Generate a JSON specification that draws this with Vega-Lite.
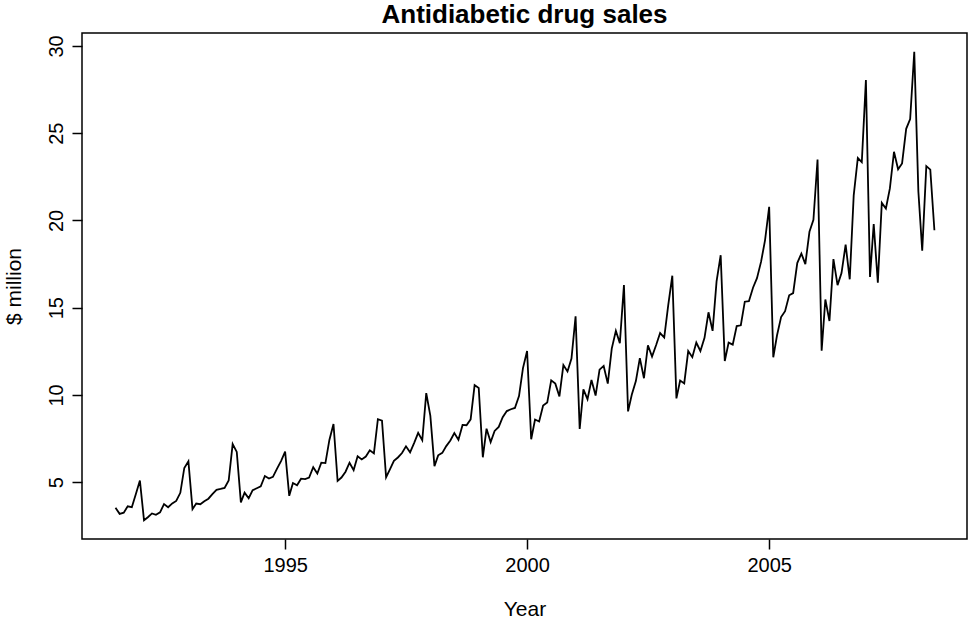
{
  "$schema": "https://vega.github.io/schema/vega-lite/v6.json",
  "width": 885,
  "height": 506,
  "autosize": {"type": "none"},
  "padding": {"left": 82, "top": 33, "right": 11, "bottom": 89},
  "background": "white",
  "config": {
    "font": "Liberation Sans",
    "view": {"stroke": "black", "strokeWidth": 1.5},
    "axis": {"grid": false, "domain": false, "tickColor": "black", "tickWidth": 1.5, "labelColor": "black", "titleColor": "black", "labelFont": "Liberation Sans", "titleFont": "Liberation Sans", "titleFontWeight": "normal"}
  },
  "title": {"text": "Antidiabetic drug sales", "fontSize": 26, "fontWeight": "bold", "font": "Liberation Sans", "anchor": "middle", "offset": 5, "color": "black"},
  "data": {"values": [
    {"d":"1991-07-01","v":3.526591},{"d":"1991-08-01","v":3.180891},{"d":"1991-09-01","v":3.252221},{"d":"1991-10-01","v":3.611003},{"d":"1991-11-01","v":3.565869},{"d":"1991-12-01","v":4.306371},
    {"d":"1992-01-01","v":5.088335},{"d":"1992-02-01","v":2.814520},{"d":"1992-03-01","v":2.985811},{"d":"1992-04-01","v":3.204780},{"d":"1992-05-01","v":3.127578},{"d":"1992-06-01","v":3.270523},{"d":"1992-07-01","v":3.737851},{"d":"1992-08-01","v":3.558776},{"d":"1992-09-01","v":3.777202},{"d":"1992-10-01","v":3.924490},{"d":"1992-11-01","v":4.386531},{"d":"1992-12-01","v":5.810549},
    {"d":"1993-01-01","v":6.192068},{"d":"1993-02-01","v":3.450857},{"d":"1993-03-01","v":3.772307},{"d":"1993-04-01","v":3.734303},{"d":"1993-05-01","v":3.905399},{"d":"1993-06-01","v":4.049687},{"d":"1993-07-01","v":4.315566},{"d":"1993-08-01","v":4.562185},{"d":"1993-09-01","v":4.608662},{"d":"1993-10-01","v":4.667851},{"d":"1993-11-01","v":5.093841},{"d":"1993-12-01","v":7.179962},
    {"d":"1994-01-01","v":6.731473},{"d":"1994-02-01","v":3.841278},{"d":"1994-03-01","v":4.394076},{"d":"1994-04-01","v":4.075341},{"d":"1994-05-01","v":4.540645},{"d":"1994-06-01","v":4.645615},{"d":"1994-07-01","v":4.752607},{"d":"1994-08-01","v":5.350605},{"d":"1994-09-01","v":5.204455},{"d":"1994-10-01","v":5.301651},{"d":"1994-11-01","v":5.773742},{"d":"1994-12-01","v":6.204593},
    {"d":"1995-01-01","v":6.749484},{"d":"1995-02-01","v":4.216067},{"d":"1995-03-01","v":4.949349},{"d":"1995-04-01","v":4.823045},{"d":"1995-05-01","v":5.194754},{"d":"1995-06-01","v":5.170787},{"d":"1995-07-01","v":5.256742},{"d":"1995-08-01","v":5.855277},{"d":"1995-09-01","v":5.490729},{"d":"1995-10-01","v":6.115293},{"d":"1995-11-01","v":6.088473},{"d":"1995-12-01","v":7.416598},
    {"d":"1996-01-01","v":8.329452},{"d":"1996-02-01","v":5.069796},{"d":"1996-03-01","v":5.262557},{"d":"1996-04-01","v":5.597126},{"d":"1996-05-01","v":6.110296},{"d":"1996-06-01","v":5.689161},{"d":"1996-07-01","v":6.486849},{"d":"1996-08-01","v":6.300569},{"d":"1996-09-01","v":6.467476},{"d":"1996-10-01","v":6.828629},{"d":"1996-11-01","v":6.649078},{"d":"1996-12-01","v":8.606937},
    {"d":"1997-01-01","v":8.524471},{"d":"1997-02-01","v":5.277918},{"d":"1997-03-01","v":5.714303},{"d":"1997-04-01","v":6.214529},{"d":"1997-05-01","v":6.411929},{"d":"1997-06-01","v":6.667716},{"d":"1997-07-01","v":7.050831},{"d":"1997-08-01","v":6.704919},{"d":"1997-09-01","v":7.250988},{"d":"1997-10-01","v":7.819733},{"d":"1997-11-01","v":7.398101},{"d":"1997-12-01","v":10.096233},
    {"d":"1998-01-01","v":8.798513},{"d":"1998-02-01","v":5.918261},{"d":"1998-03-01","v":6.534493},{"d":"1998-04-01","v":6.675233},{"d":"1998-05-01","v":7.064201},{"d":"1998-06-01","v":7.383132},{"d":"1998-07-01","v":7.813162},{"d":"1998-08-01","v":7.431489},{"d":"1998-09-01","v":8.275117},{"d":"1998-10-01","v":8.260441},{"d":"1998-11-01","v":8.596156},{"d":"1998-12-01","v":10.558939},
    {"d":"1999-01-01","v":10.391416},{"d":"1999-02-01","v":6.421535},{"d":"1999-03-01","v":8.062619},{"d":"1999-04-01","v":7.297739},{"d":"1999-05-01","v":7.936916},{"d":"1999-06-01","v":8.165323},{"d":"1999-07-01","v":8.717420},{"d":"1999-08-01","v":9.070964},{"d":"1999-09-01","v":9.177113},{"d":"1999-10-01","v":9.251887},{"d":"1999-11-01","v":9.933136},{"d":"1999-12-01","v":11.532974},
    {"d":"2000-01-01","v":12.511462},{"d":"2000-02-01","v":7.457199},{"d":"2000-03-01","v":8.591191},{"d":"2000-04-01","v":8.474000},{"d":"2000-05-01","v":9.386803},{"d":"2000-06-01","v":9.560399},{"d":"2000-07-01","v":10.834295},{"d":"2000-08-01","v":10.643751},{"d":"2000-09-01","v":9.908162},{"d":"2000-10-01","v":11.710041},{"d":"2000-11-01","v":11.340151},{"d":"2000-12-01","v":12.079132},
    {"d":"2001-01-01","v":14.497581},{"d":"2001-02-01","v":8.049275},{"d":"2001-03-01","v":10.312891},{"d":"2001-04-01","v":9.753358},{"d":"2001-05-01","v":10.850382},{"d":"2001-06-01","v":9.961719},{"d":"2001-07-01","v":11.443601},{"d":"2001-08-01","v":11.659239},{"d":"2001-09-01","v":10.647060},{"d":"2001-10-01","v":12.652134},{"d":"2001-11-01","v":13.674466},{"d":"2001-12-01","v":12.965735},
    {"d":"2002-01-01","v":16.300269},{"d":"2002-02-01","v":9.053485},{"d":"2002-03-01","v":10.002449},{"d":"2002-04-01","v":10.788750},{"d":"2002-05-01","v":12.106705},{"d":"2002-06-01","v":10.954101},{"d":"2002-07-01","v":12.844566},{"d":"2002-08-01","v":12.196500},{"d":"2002-09-01","v":12.854748},{"d":"2002-10-01","v":13.542004},{"d":"2002-11-01","v":13.287640},{"d":"2002-12-01","v":15.134918},
    {"d":"2003-01-01","v":16.828350},{"d":"2003-02-01","v":9.800215},{"d":"2003-03-01","v":10.816994},{"d":"2003-04-01","v":10.654223},{"d":"2003-05-01","v":12.512323},{"d":"2003-06-01","v":12.161210},{"d":"2003-07-01","v":12.998046},{"d":"2003-08-01","v":12.517276},{"d":"2003-09-01","v":13.268658},{"d":"2003-10-01","v":14.733622},{"d":"2003-11-01","v":13.669382},{"d":"2003-12-01","v":16.503966},
    {"d":"2004-01-01","v":18.003768},{"d":"2004-02-01","v":11.938030},{"d":"2004-03-01","v":12.997900},{"d":"2004-04-01","v":12.882645},{"d":"2004-05-01","v":13.943447},{"d":"2004-06-01","v":13.989472},{"d":"2004-07-01","v":15.339097},{"d":"2004-08-01","v":15.370764},{"d":"2004-09-01","v":16.142005},{"d":"2004-10-01","v":16.685754},{"d":"2004-11-01","v":17.636728},{"d":"2004-12-01","v":18.869325},
    {"d":"2005-01-01","v":20.778723},{"d":"2005-02-01","v":12.154552},{"d":"2005-03-01","v":13.402392},{"d":"2005-04-01","v":14.459239},{"d":"2005-05-01","v":14.795102},{"d":"2005-06-01","v":15.705248},{"d":"2005-07-01","v":15.829550},{"d":"2005-08-01","v":17.554701},{"d":"2005-09-01","v":18.100864},{"d":"2005-10-01","v":17.496668},{"d":"2005-11-01","v":19.347265},{"d":"2005-12-01","v":20.031291},
    {"d":"2006-01-01","v":23.486694},{"d":"2006-02-01","v":12.536987},{"d":"2006-03-01","v":15.467018},{"d":"2006-04-01","v":14.233539},{"d":"2006-05-01","v":17.783058},{"d":"2006-06-01","v":16.291602},{"d":"2006-07-01","v":16.980282},{"d":"2006-08-01","v":18.612189},{"d":"2006-09-01","v":16.623343},{"d":"2006-10-01","v":21.430241},{"d":"2006-11-01","v":23.575517},{"d":"2006-12-01","v":23.334206},
    {"d":"2007-01-01","v":28.038383},{"d":"2007-02-01","v":16.763869},{"d":"2007-03-01","v":19.792754},{"d":"2007-04-01","v":16.427305},{"d":"2007-05-01","v":21.000742},{"d":"2007-06-01","v":20.681002},{"d":"2007-07-01","v":21.834890},{"d":"2007-08-01","v":23.930204},{"d":"2007-09-01","v":22.930357},{"d":"2007-10-01","v":23.263340},{"d":"2007-11-01","v":25.250030},{"d":"2007-12-01","v":25.806090},
    {"d":"2008-01-01","v":29.665356},{"d":"2008-02-01","v":21.654285},{"d":"2008-03-01","v":18.264945},{"d":"2008-04-01","v":23.107677},{"d":"2008-05-01","v":22.912510},{"d":"2008-06-01","v":19.431740}
  ]},
  "mark": {"type": "line", "color": "black", "strokeWidth": 1.8, "clip": true},
  "encoding": {
    "x": {
      "field": "d", "type": "temporal",
      "scale": {"domain": [{"year": 1990, "month": 10, "date": 21, "utc": true}, {"year": 2009, "month": 2, "date": 2, "utc": true}]},
      "axis": {
        "title": "Year", "titleFontSize": 21, "titlePadding": 23,
        "values": [{"year": 1995, "month": 1, "date": 1, "utc": true}, {"year": 2000, "month": 1, "date": 1, "utc": true}, {"year": 2005, "month": 1, "date": 1, "utc": true}],
        "format": "%Y", "formatType": "utc", "labelFontSize": 20, "tickSize": 10, "labelPadding": 6
      }
    },
    "y": {
      "field": "v", "type": "quantitative",
      "scale": {"domain": [1.74, 30.74], "nice": false, "zero": false},
      "axis": {
        "title": "$ million", "titleFontSize": 21, "titlePadding": 22,
        "values": [5, 10, 15, 20, 25, 30],
        "labelFontSize": 20, "labelAngle": 270, "labelAlign": "center", "labelBaseline": "bottom", "tickSize": 10, "labelPadding": 6
      }
    }
  }
}
